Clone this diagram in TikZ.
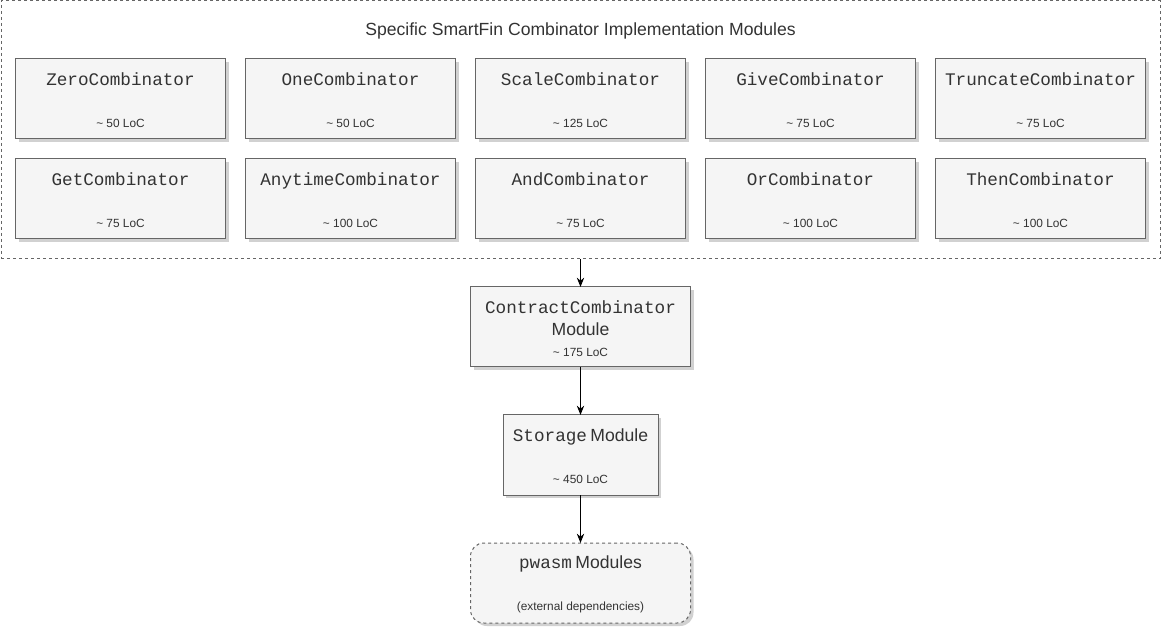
\documentclass[tikz,border=0pt]{standalone}
\usepackage{fontspec}
\setmainfont{Liberation Sans}
\setmonofont{Liberation Mono}
\usepackage{xcolor}
\usepackage{tikz}
\usetikzlibrary{arrows.meta, positioning, shadows}
\definecolor{boxfill}{HTML}{F5F5F5}
\definecolor{boxline}{HTML}{666666}
\definecolor{boxtext}{HTML}{333333}
\newcommand{\locfont}{\fontsize{8.9}{10.5}\selectfont}
\newcommand{\bigfont}{\fontsize{13.2}{16}\selectfont}
\newcommand{\code}[1]{{\ttfamily\fontsize{13.25}{16}\selectfont\rule{0pt}{11.5pt}#1}}
\newcommand{\modtext}[1]{{\bigfont #1}}
\newcommand{\loc}[1]{\textasciitilde\ #1 LoC}

\begin{document}
\begin{tikzpicture}[
    x=0.75pt, y=-0.75pt,
    node distance=15pt and 15pt,
    combbox/.style={draw=boxline, fill=boxfill, line width=0.75pt, outer sep=0pt, minimum width=157.5pt, minimum height=60pt, align=center, text=boxtext, font=\locfont, drop shadow={shadow xshift=2.25pt, shadow yshift=-2.25pt, opacity=0.3, fill=black!60}},
    modgroup/.style={draw=boxline, dash pattern=on 2.25pt off 2.25pt, line width=0.75pt, outer sep=0pt, minimum width=869.25pt, minimum height=193.5pt},
    grouptitle/.style={font=\bigfont, text=boxtext, inner sep=0pt},
    extbox/.style={combbox, rounded corners=10pt, dash pattern=on 2.25pt off 2.25pt},
    flow/.style={-{Stealth[length=7pt, width=5.5pt]}, line width=0.75pt}
]
    \useasboundingbox (0,0) rectangle (1161,627);

    % Group of combinator modules
    \node[modgroup] (modules) at (580.5,130) {};
    \node[grouptitle] (grouptitle) at (580.5,31) {Specific SmartFin Combinator Implementation Modules};

    % First row
    \node[combbox] (zero) at (120.5,99) {\code{ZeroCombinator}\\[21pt]\loc{50}};
    \node[combbox, right=of zero] (one) {\code{OneCombinator}\\[21pt]\loc{50}};
    \node[combbox, right=of one] (scale) {\code{ScaleCombinator}\\[21pt]\loc{125}};
    \node[combbox, right=of scale] (give) {\code{GiveCombinator}\\[21pt]\loc{75}};
    \node[combbox, right=of give] (truncate) {\code{TruncateCombinator}\\[21pt]\loc{75}};

    % Second row
    \node[combbox, below=of zero] (get) {\code{GetCombinator}\\[21pt]\loc{75}};
    \node[combbox, right=of get] (anytime) {\code{AnytimeCombinator}\\[21pt]\loc{100}};
    \node[combbox, right=of anytime] (and) {\code{AndCombinator}\\[21pt]\loc{75}};
    \node[combbox, right=of and] (or) {\code{OrCombinator}\\[21pt]\loc{100}};
    \node[combbox, right=of or] (then) {\code{ThenCombinator}\\[21pt]\loc{100}};

    % Lower modules
    \node[combbox, minimum width=165pt] (contract) at (580.5,327) {\code{ContractCombinator}\\[6pt]\modtext{Module}\\[5.25pt]\loc{175}};
    \node[combbox, minimum width=116.25pt] (storage) at (580.5,455) {\code{Storage} \modtext{Module}\\[21pt]\loc{450}};
    \node[extbox, minimum width=165pt] (pwasm) at (580.5,583) {\code{pwasm} \modtext{Modules}\\[21pt](external dependencies)};

    % Dependencies
    \draw[flow] (modules.south) -- (contract.north);
    \draw[flow] (contract.south) -- (storage.north);
    \draw[flow] (storage.south) -- (pwasm.north);
\end{tikzpicture}
\end{document}
